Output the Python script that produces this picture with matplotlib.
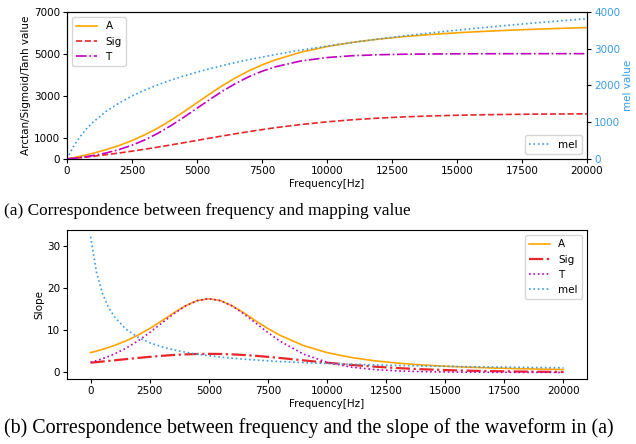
import matplotlib.pyplot as plt

# frecvente (Hz) si valorile
freq = [0, 250, 500, 750, 1000, 1500, 2000, 2500, 3000, 3500, 4000, 4500,
        5000, 5500, 6000, 6500, 7000, 7500, 8000, 9000, 10000, 11000, 12000,
        13000, 14000, 15000, 16000, 17000, 18000, 19000, 20000]

val_a = [0, 59, 124, 194, 269, 440, 640, 876, 1154, 1477, 1845, 2250,
         2677, 3104, 3509, 3877, 4200, 4478, 4714, 5085, 5354, 5557, 5711,
         5832, 5929, 6009, 6075, 6131, 6179, 6221, 6257]
val_sig = [0, 29, 60, 93, 127, 202, 283, 371, 465, 565, 669, 776,
           884, 993, 1100, 1204, 1303, 1397, 1486, 1641, 1768, 1869, 1947,
           2006, 2049, 2081, 2105, 2121, 2134, 2142, 2149]
val_t = [0, 32, 69, 112, 161, 284, 446, 653, 911, 1224, 1587, 1990,
         2415, 2840, 3243, 3606, 3919, 4177, 4384, 4669, 4830, 4918, 4964,
         4989, 5001, 5008, 5011, 5013, 5014, 5015, 5015]
val_mel = [0, 344, 607, 821, 1000, 1291, 1521, 1713, 1876, 2019, 2146, 2260,
           2363, 2458, 2546, 2627, 2702, 2773, 2840, 2963, 3073, 3174, 3266,
           3352, 3431, 3505, 3575, 3640, 3702, 3761, 3817]

slope_a = [4.70, 5.06, 5.46, 5.90, 6.38, 7.50, 8.84, 10.41, 12.19, 14.06, 15.78, 17.04,
           17.50, 17.04, 15.78, 14.06, 12.19, 10.41, 8.84, 6.38, 4.70, 3.56, 2.76,
           2.20, 1.78, 1.47, 1.23, 1.05, 0.90, 0.78, 0.69]
slope_sig = [2.30, 2.44, 2.58, 2.72, 2.86, 3.15, 3.43, 3.69, 3.93, 4.13, 4.28, 4.37,
             4.40, 4.37, 4.28, 4.13, 3.93, 3.69, 3.43, 2.86, 2.30, 1.79, 1.37,
             1.02, 0.75, 0.55, 0.40, 0.29, 0.21, 0.15, 0.11]
slope_t = [2.40, 2.79, 3.25, 3.77, 4.35, 5.75, 7.46, 9.46, 11.65, 13.83, 15.73, 17.03,
           17.50, 17.03, 15.73, 13.83, 11.65, 9.46, 7.46, 4.35, 2.40, 1.28, 0.68,
           0.35, 0.18, 0.10, 0.05, 0.03, 0.01, 0.01, 0.00]
slope_mel = [32.2, 23.73, 18.78, 15.54, 13.26, 10.25, 8.35, 7.04, 6.09, 5.37, 4.80, 4.33,
             3.95, 3.64, 3.36, 3.13, 2.93, 2.75, 2.59, 2.32, 2.11, 1.93, 1.77,
             1.65, 1.53, 1.44, 1.35, 1.27, 1.21, 1.14, 1.09]

c_a = 'orange'
c_sig = '#e8262a'
c_t = '#c000c0'
c_mel = '#3a9be8'
fs = 7.5
lw = 1.2

plt.rcParams['font.size'] = fs
fig = plt.figure(figsize=(6.36, 4.44), dpi=100)

# grafic (a)
ax1 = fig.add_axes([0.1053, 0.642, 0.8177, 0.331])
ax1.plot(freq, val_a, color=c_a, lw=lw, label="A")
ax1.plot(freq, val_sig, color=c_sig, lw=lw, ls='--', label="Sig")
ax1.plot(freq, val_t, color=c_t, lw=lw, ls='-.', label="T")
ax1.set_xlim(0, 20000)
ax1.set_ylim(0, 7000)
ax1.set_yticks([0, 1000, 3000, 5000, 7000])
ax1.set_xticks(range(0, 20001, 2500))
ax1.set_xlabel("Frequency[Hz]", fontsize=fs, labelpad=2)
ax1.set_ylabel("Arctan/Sigmoid/Tanh value", fontsize=fs, labelpad=2)
ax1.tick_params(labelsize=fs, length=3, pad=2)
ax1.legend(loc='upper left', fontsize=fs)

ax2 = ax1.twinx()
ax2.plot(freq, val_mel, color=c_mel, lw=lw, ls=':', label="mel")
ax2.set_ylim(0, 4000)
ax2.set_yticks(range(0, 4001, 1000))
ax2.set_ylabel("mel value", color=c_mel, fontsize=fs, labelpad=2)
ax2.tick_params(axis='y', labelcolor=c_mel, labelsize=fs, length=3, pad=2)
ax2.legend(loc='lower right', fontsize=fs)

# grafic (b)
ax3 = fig.add_axes([0.1053, 0.146, 0.8177, 0.336])
ax3.plot(freq, slope_a, color=c_a, lw=lw, label="A")
ax3.plot(freq, slope_sig, color=c_sig, lw=lw + 0.4, ls='-.', label="Sig")
ax3.plot(freq, slope_t, color=c_t, lw=lw, ls=':', label="T")
ax3.plot(freq, slope_mel, color=c_mel, lw=lw, ls=':', label="mel")
ax3.set_xticks(range(0, 20001, 2500))
ax3.set_yticks([0, 10, 20, 30])
ax3.set_xlabel("Frequency[Hz]", fontsize=fs, labelpad=2)
ax3.set_ylabel("Slope", fontsize=fs, labelpad=2)
ax3.tick_params(labelsize=fs, length=3, pad=2)
ax3.legend(loc='upper right', fontsize=fs)

fig.text(0.006, 0.525, "(a) Correspondence between frequency and mapping value",
         va='center', ha='left', family="Liberation Serif", fontsize=12.4)
fig.text(0.006, 0.036, "(b) Correspondence between frequency and the slope of the waveform in (a)",
         va='center', ha='left', family="Liberation Serif", fontsize=14.4)

fig.savefig("out.png", dpi=100)
